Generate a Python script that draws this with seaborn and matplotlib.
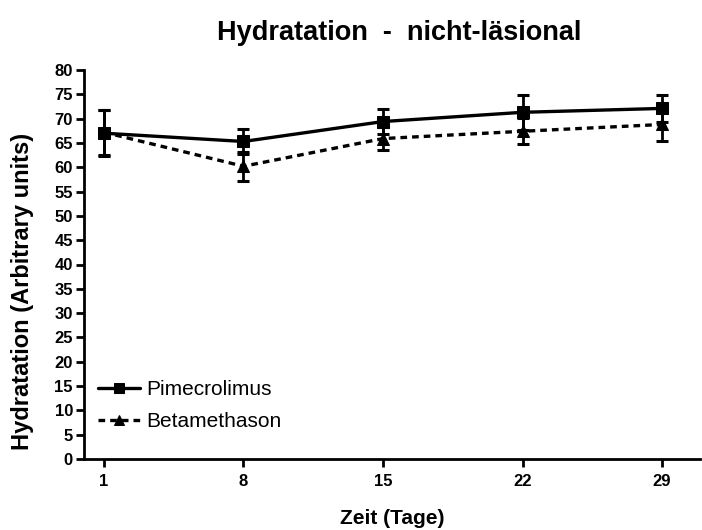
import numpy as np
import pandas as pd
import matplotlib
matplotlib.use('Agg')
import matplotlib.pyplot as plt
import seaborn as sns

days = [1, 8, 15, 22, 29]
pime_mean = [67.0, 65.3, 69.4, 71.3, 72.1]
pime_err = [4.7, 2.5, 2.5, 3.6, 2.8]
beta_mean = [67.2, 60.2, 65.9, 67.4, 68.8]
beta_err = [4.6, 3.0, 2.3, 2.7, 3.3]
y_ticks = list(range(0, 81, 5))

sns.set_style('ticks')
plt.rcParams['font.family'] = ['Liberation Sans', 'DejaVu Sans']
for k in ['text.color', 'axes.labelcolor', 'xtick.color', 'ytick.color', 'axes.edgecolor']:
    plt.rcParams[k] = 'black'

df = pd.DataFrame({
    'day': days * 2,
    'value': pime_mean + beta_mean,
    'group': ['Pimecrolimus'] * 5 + ['Betamethason'] * 5,
})

fig = plt.figure(figsize=(7.02, 5.30), dpi=100)
ax = fig.add_axes([84 / 702, 71 / 530, 616 / 702, 389 / 530])

# error bars first, lines and markers on top
ax.errorbar(days, pime_mean, yerr=pime_err, fmt='none', ecolor='black',
            elinewidth=2, capsize=4.5, capthick=2.2)
ax.errorbar(days, beta_mean, yerr=beta_err, fmt='none', ecolor='black',
            elinewidth=2, capsize=4.5, capthick=2.2)

sns.lineplot(data=df, x='day', y='value', hue='group', style='group',
             palette=['black', 'black'],
             dashes={'Pimecrolimus': '', 'Betamethason': (2.0, 1.5)},
             markers={'Pimecrolimus': 's', 'Betamethason': '^'},
             markersize=8, linewidth=2.4, markeredgecolor='black', ax=ax)

ax.set_xlim(0, 30.9)
ax.set_ylim(0, 80)
ax.set_xticks(days)
ax.set_yticks(y_ticks)
ax.set_xticklabels([str(d) for d in days], fontweight='bold', fontsize=12)
ax.set_yticklabels([str(t) for t in y_ticks], fontweight='bold', fontsize=12)
ax.tick_params(axis='both', direction='out', length=6, width=2, pad=2)
ax.tick_params(axis='x', pad=5)

sns.despine(ax=ax)
for s in ['left', 'bottom']:
    ax.spines[s].set_linewidth(2)

ax.set_xlabel('Zeit (Tage)', fontweight='bold', fontsize=15)
ax.set_ylabel('Hydratation (Arbitrary units)', fontweight='bold', fontsize=17)
ax.xaxis.set_label_coords(0.5, -0.152)
ax.xaxis.label.set_va('center')
ax.yaxis.set_label_coords(-0.1, 0.43)
ax.yaxis.label.set_va('center')
fig.text(0.568, 0.938, 'Hydratation  -  nicht-läsional', ha='center', va='center',
         fontweight='bold', fontsize=19.5)

leg = ax.legend(loc='upper left', bbox_to_anchor=(98 / 702, 1 - 380 / 530),
                bbox_transform=fig.transFigure, frameon=False,
                fontsize=15, handlelength=2.0, handletextpad=0.3, labelspacing=0.62,
                borderpad=0, borderaxespad=0, markerscale=0.9)

fig.savefig('out.png', dpi=100)
